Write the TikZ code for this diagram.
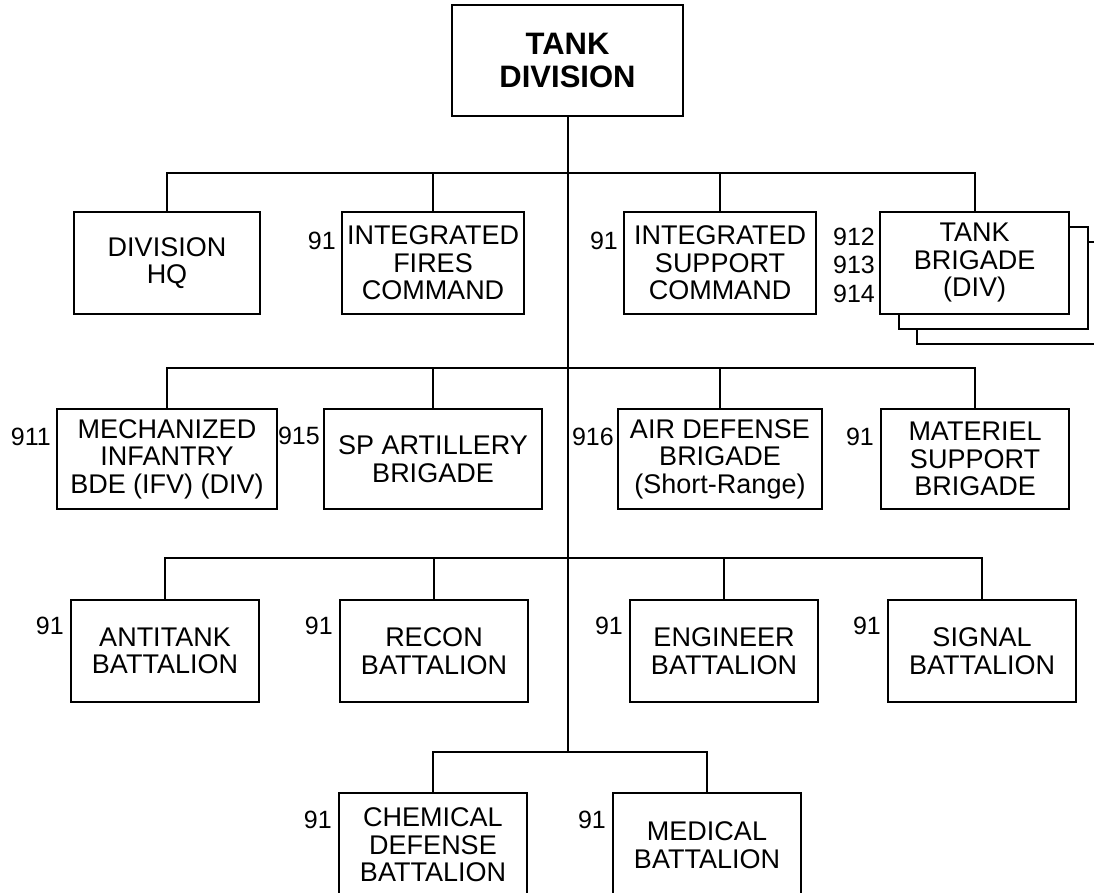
\documentclass[tikz,border=0pt]{standalone}
\usepackage{fontspec}
\setmainfont{Liberation Sans}
\usetikzlibrary{calc}
\definecolor{InkBlack}{HTML}{000000}

\tikzset{
  unitbox/.style={draw=InkBlack, line width=2pt, fill=white, align=center,
    inner sep=0pt, text=InkBlack, font=\fontsize{27}{27.5}\selectfont},
  numtag/.style={inner sep=0pt, align=right, text=InkBlack,
    font=\fontsize{25}{28.5}\selectfont},
  wire/.style={draw=InkBlack, line width=2pt},
}

\begin{document}
\begin{tikzpicture}[x=1pt, y=1pt]
  \useasboundingbox (0,0) rectangle (1094,-893);

  % headquarters
  \node[unitbox, minimum width=231pt, minimum height=111pt,
        font=\fontsize{31}{32.5}\selectfont\bfseries] (div) at (567.5,-60.5) {TANK\\DIVISION};

  % first echelon
  \node[unitbox, minimum width=186pt, minimum height=101pt] (hq)  at (167,-263) {DIVISION\\HQ};
  \node[unitbox, minimum width=182pt, minimum height=101pt] (ifc) at (433,-263) {INTEGRATED\\FIRES\\COMMAND};
  \node[unitbox, minimum width=192pt, minimum height=101pt] (isc) at (720,-263) {INTEGRATED\\SUPPORT\\COMMAND};
  \node[unitbox, minimum width=189pt, minimum height=102pt] (tankc) at (1011.5,-293) {};
  \node[unitbox, minimum width=189pt, minimum height=101pt] (tankb) at (993,-278) {};
  \node[unitbox, minimum width=189pt, minimum height=101pt] (tank) at (974.5,-263) {TANK\\BRIGADE\\(DIV)};

  % second echelon
  \node[unitbox, minimum width=220pt, minimum height=100pt] (mech) at (167,-459) {MECHANIZED\\INFANTRY\\BDE (IFV) (DIV)};
  \node[unitbox, minimum width=218pt, minimum height=100pt] (spa)  at (433,-459) {SP ARTILLERY\\BRIGADE};
  \node[unitbox, minimum width=204pt, minimum height=100pt] (adb)  at (720,-459) {AIR DEFENSE\\BRIGADE\\(Short-Range)};
  \node[unitbox, minimum width=188pt, minimum height=100pt] (msb)  at (975,-459) {MATERIEL\\SUPPORT\\BRIGADE};

  % battalions
  \node[unitbox, minimum width=188pt, minimum height=102pt] (atb) at (165,-651) {ANTITANK\\BATTALION};
  \node[unitbox, minimum width=188pt, minimum height=102pt] (rcn) at (434,-651) {RECON\\BATTALION};
  \node[unitbox, minimum width=188pt, minimum height=102pt] (eng) at (724,-651) {ENGINEER\\BATTALION};
  \node[unitbox, minimum width=188pt, minimum height=102pt] (sig) at (982,-651) {SIGNAL\\BATTALION};

  \node[unitbox, minimum width=188pt, minimum height=104pt] (chem) at (433,-845) {CHEMICAL\\DEFENSE\\BATTALION};
  \node[unitbox, minimum width=188pt, minimum height=104pt] (med)  at (707,-845) {MEDICAL\\BATTALION};

  % designators
  \node[numtag, anchor=east] (ifcnum) at ($(ifc.north west)+(-5,-29)$) {91};
  \node[numtag, anchor=east] (iscnum) at ($(isc.north west)+(-5,-29)$) {91};
  \node[numtag, anchor=north east] (tanknum) at ($(tank.north west)+(-4,-16)$) {912\\913\\914};
  \node[numtag, anchor=east] (mechnum) at ($(mech.north west)+(-5,-29)$) {911};
  \node[numtag, anchor=east] (spanum)  at ($(spa.north west)+(-3,-28)$) {915};
  \node[numtag, anchor=east] (adbnum)  at ($(adb.north west)+(-3,-29)$) {916};
  \node[numtag, anchor=east] (msbnum)  at ($(msb.north west)+(-6,-29)$) {91};
  \node[numtag, anchor=east] (atbnum)  at ($(atb.north west)+(-6,-27)$) {91};
  \node[numtag, anchor=east] (rcnnum)  at ($(rcn.north west)+(-6,-27)$) {91};
  \node[numtag, anchor=east] (engnum)  at ($(eng.north west)+(-6,-27)$) {91};
  \node[numtag, anchor=east] (signum)  at ($(sig.north west)+(-6,-27)$) {91};
  \node[numtag, anchor=east] (chemnum) at ($(chem.north west)+(-6,-28)$) {91};
  \node[numtag, anchor=east] (mednum)  at ($(med.north west)+(-6,-28)$) {91};

  % buses
  \coordinate (busA) at (0,-173);
  \coordinate (busB) at (0,-368);
  \coordinate (busC) at (0,-558);
  \coordinate (busD) at (0,-752);

  \draw[wire] (div.south) -- (div.south |- busD);

  \draw[wire] (hq.north) |- (busA -| tank.north) -- (tank.north);
  \draw[wire] (ifc.north) -- (ifc.north |- busA);
  \draw[wire] (isc.north) -- (isc.north |- busA);

  \draw[wire] (mech.north) |- (busB -| msb.north) -- (msb.north);
  \draw[wire] (spa.north) -- (spa.north |- busB);
  \draw[wire] (adb.north) -- (adb.north |- busB);

  \draw[wire] (atb.north) |- (busC -| sig.north) -- (sig.north);
  \draw[wire] (rcn.north) -- (rcn.north |- busC);
  \draw[wire] (eng.north) -- (eng.north |- busC);

  \draw[wire] (chem.north) |- (busD -| med.north) -- (med.north);
\end{tikzpicture}
\end{document}
